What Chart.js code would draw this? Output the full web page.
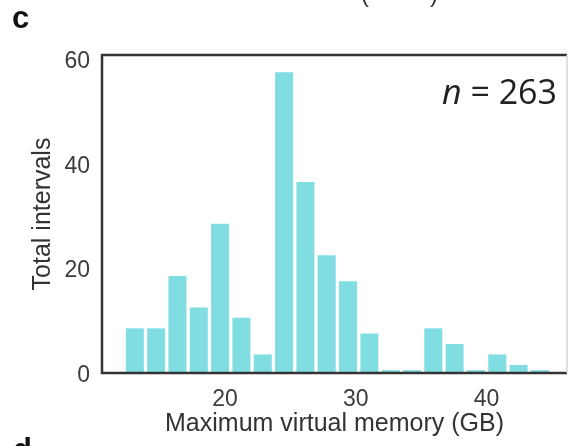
<!DOCTYPE html>
<html>
<head>
<meta charset="utf-8">
<script src="https://cdn.jsdelivr.net/npm/chart.js@4.4.1/dist/chart.umd.min.js"></script>
<style>
  html, body { margin: 0; padding: 0; background: #fff; }
  #wrap { position: relative; width: 570px; height: 446px; }
</style>
</head>
<body>
<div id="wrap"><canvas id="memChart" width="570" height="446"></canvas></div>
<script>
// Histogram: maximum virtual memory per interval, 20 bins of ~1.63 GB
const binCenters = [13.11, 14.74, 16.37, 18.00, 19.63, 21.26, 22.89, 24.52, 26.15, 27.78,
                    29.41, 31.04, 32.67, 34.30, 35.93, 37.56, 39.19, 40.82, 42.45, 44.08];
const intervalCounts = [9, 9, 19, 13, 29, 11, 4, 58, 37, 23,
                        18, 8, 1, 1, 9, 6, 1, 4, 2, 1];
const xTickValues = [20, 30, 40];
const yTickValues = [0, 20, 40, 60];

const FONT = '"Liberation Sans", Arial, Helvetica, sans-serif';
const barColor = 'rgb(128, 222, 227)';

const totalIntervals = intervalCounts.reduce((a, b) => a + b, 0);

// box around plot area: dark left/top/bottom, faint right edge
const frameBox = {
    id: 'frameBox',
    afterDatasetsDraw(chart) {
        const { ctx, chartArea: a } = chart;
        ctx.save();
        ctx.strokeStyle = '#333';
        ctx.lineWidth = 2.5;
        ctx.beginPath();
        ctx.moveTo(a.right, a.top);
        ctx.lineTo(a.left, a.top);
        ctx.lineTo(a.left, a.bottom);
        ctx.lineTo(a.right, a.bottom);
        ctx.stroke();
        ctx.strokeStyle = '#d4d4d4';
        ctx.lineWidth = 1.5;
        ctx.beginPath();
        ctx.moveTo(a.right, a.top);
        ctx.lineTo(a.right, a.bottom);
        ctx.stroke();
        ctx.restore();
    }
};

// panel letters and the sample-size note
const annotations = {
    id: 'annotations',
    afterDraw(chart) {
        const { ctx } = chart;
        ctx.save();
        ctx.fillStyle = '#111';
        ctx.textBaseline = 'alphabetic';
        ctx.textAlign = 'left';
        ctx.font = 'bold 31px ' + FONT;
        ctx.fillText('c', 12, 28);
        ctx.fillText('d', 13, 460);

        // bits of the panel above, cut by the top edge
        ctx.fillStyle = '#333';
        ctx.font = '24px ' + FONT;
        ctx.fillText('(', 361, 2);
        ctx.fillText(')', 430, 2);

        // n = 263, right aligned inside the box
        const right = 557, base = 104;
        ctx.fillStyle = '#222';
        const rest = ' = ' + totalIntervals;
        ctx.font = '34px "Open Sans", sans-serif';
        const wRest = ctx.measureText(rest).width;
        ctx.fillText(rest, right - wRest, base);
        ctx.font = 'italic 34px "Open Sans", sans-serif';
        const wN = ctx.measureText('n').width;
        ctx.fillText('n', right - wRest - wN, base);
        ctx.restore();
    }
};

new Chart(document.getElementById('memChart').getContext('2d'), {
    type: 'bar',
    data: {
        datasets: [{
            data: binCenters.map((x, i) => ({ x: x, y: intervalCounts[i] })),
            backgroundColor: barColor,
            borderWidth: 0,
            barPercentage: 0.845,
            categoryPercentage: 1
        }]
    },
    options: {
        responsive: false,
        animation: false,
        layout: { padding: { top: 55, right: 3, left: 0, bottom: 0 } },
        plugins: {
            legend: { display: false },
            tooltip: { enabled: false }
        },
        scales: {
            x: {
                type: 'linear',
                min: 10.6,
                max: 46.15,
                offset: false,
                grid: { display: false, drawTicks: false },
                border: { display: false },
                afterBuildTicks: (s) => { s.ticks = xTickValues.map(v => ({ value: v })); },
                afterFit: (s) => { s.height = 73; },
                ticks: {
                    padding: 13,
                    autoSkip: false,
                    maxRotation: 0,
                    color: '#3c3c3c',
                    font: { family: FONT, size: 23 }
                },
                title: {
                    display: true,
                    text: 'Maximum virtual memory (GB)',
                    color: '#333',
                    font: { family: FONT, size: 25 },
                    padding: { top: 0, bottom: 7 }
                }
            },
            y: {
                min: 0.45,
                max: 61.3,
                grid: { display: false, drawTicks: false },
                border: { display: false },
                afterBuildTicks: (s) => { s.ticks = yTickValues.map(v => ({ value: v })); },
                afterFit: (s) => { s.width = 102; },
                ticks: {
                    padding: 12,
                    color: '#3c3c3c',
                    font: { family: FONT, size: 23 }
                },
                title: {
                    display: true,
                    text: 'Total intervals',
                    color: '#333',
                    font: { family: FONT, size: 25 },
                    padding: { top: 28, bottom: 0 }
                }
            }
        }
    },
    plugins: [frameBox, annotations]
});
</script>
</body>
</html>
